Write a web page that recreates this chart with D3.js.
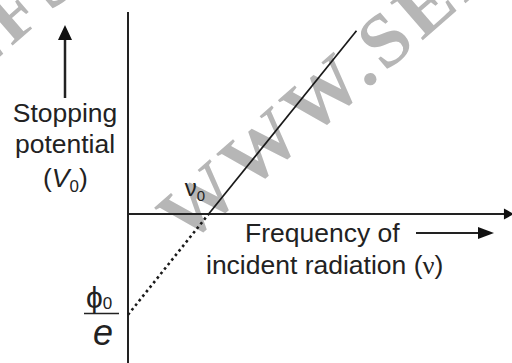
<!DOCTYPE html>
<html lang="en">
<head>
    <meta charset="UTF-8">
    <title>Stopping potential vs frequency</title>
    <script src="https://d3js.org/d3.v7.min.js"></script>
    <style>
        body { margin: 0; background: #fff; }
        text { font-family: "Liberation Sans", Arial, sans-serif; fill: #222; }
        text.wm { font-family: "Liberation Serif", "Times New Roman", serif; font-weight: bold; fill: #b6b6b6; }
    </style>
</head>
<body>
    <div id="chart-container"></div>

    <script>
        // line (arbitrary units)
        const solidNu = [2.1, 5.95];
        const solidV = [0, 4.58];
        const dottedNu = [0, 2.1];
        const dottedV = [-2.52, 0];
        // extent of the drawn axes
        const nuAxis = [0, 10.05];
        const vAxis = [-3.75, 5.05];
        const watermark = "WWW.SELFSTUDYS.COM";

        const width = 512, height = 363;

        const svg = d3.select("#chart-container")
            .append("svg")
            .attr("width", width)
            .attr("height", height);

        const x = d3.scaleLinear().domain([0, 10]).range([128, 512]);
        const y = d3.scaleLinear().domain([0, 5]).range([214, 14]);

        // watermark (drawn first, below the chart)
        [[186, 246], [-310, 326]].forEach(function(p) {
            svg.append("text")
                .attr("class", "wm")
                .attr("transform", "translate(" + p[0] + "," + p[1] + ") rotate(-41)")
                .style("font-size", "76px")
                .style("letter-spacing", "6px")
                .text(watermark);
        });

        const line = d3.line()
            .x(function(d) { return x(d[0]); })
            .y(function(d) { return y(d[1]); });

        // axes
        svg.append("path")
            .attr("d", line([[0, vAxis[0]], [0, vAxis[1]]]))
            .attr("stroke", "#222").attr("stroke-width", 2).attr("fill", "none");
        svg.append("path")
            .attr("d", line([[nuAxis[0], 0], [nuAxis[1] - 0.2, 0]]))
            .attr("stroke", "#222").attr("stroke-width", 2).attr("fill", "none");
        // x-axis arrowhead
        const tipX = x(nuAxis[1]), tipY = y(0);
        svg.append("path")
            .attr("d", "M" + tipX + "," + tipY + "L" + (tipX - 10) + "," + (tipY - 5.5) + "L" + (tipX - 10) + "," + (tipY + 5.5) + "Z")
            .attr("fill", "#111");

        // solid line
        svg.append("path")
            .attr("d", line(d3.zip(solidNu, solidV)))
            .attr("stroke", "#1a1a1a").attr("stroke-width", 1.7).attr("fill", "none");

        // dotted extension
        svg.append("path")
            .attr("d", line(d3.zip(dottedNu, dottedV)))
            .attr("stroke", "#1a1a1a").attr("stroke-width", 2.6)
            .attr("stroke-dasharray", "2.6,3.2").attr("fill", "none");

        // y label with arrow
        svg.append("line")
            .attr("x1", 65).attr("x2", 65).attr("y1", 98).attr("y2", 38)
            .attr("stroke", "#222").attr("stroke-width", 2.5);
        svg.append("path")
            .attr("d", "M65,25L58,40L72,40Z").attr("fill", "#111");

        function label(tx, ty, anchor) {
            return svg.append("text")
                .attr("transform", "translate(" + tx + "," + ty + ") scale(1.06,1)")
                .attr("text-anchor", anchor)
                .style("font-size", "25px");
        }

        label(65, 122, "middle").text("Stopping");
        label(65, 153, "middle").text("potential");

        const v0 = label(43, 187, "start");
        v0.append("tspan").text("(");
        v0.append("tspan").style("font-style", "italic").text("V");
        v0.append("tspan").attr("dy", 5).style("font-size", "16px").text("0");
        v0.append("tspan").attr("dy", -5).text(")");

        // nu0 at the intercept
        const nz = svg.append("text")
            .attr("x", x(solidNu[0]) - 24).attr("y", 196)
            .style("font-size", "24px");
        nz.append("tspan").text("\u03bd");
        nz.append("tspan").attr("dy", 5).style("font-size", "15px").text("0");

        // x label with arrow
        label(245, 242, "start").text("Frequency of");
        const l2 = label(206, 274, "start");
        l2.append("tspan").text("incident radiation (");
        l2.append("tspan").style("font-family", "'Liberation Serif', serif").text("\u03bd");
        l2.append("tspan").text(")");

        svg.append("line")
            .attr("x1", 416).attr("x2", 482).attr("y1", 233).attr("y2", 233)
            .attr("stroke", "#222").attr("stroke-width", 2.2);
        svg.append("path")
            .attr("d", "M494,233L478,227L478,239Z").attr("fill", "#111");

        // phi0 / e at the intercept of the dotted line
        const phi = svg.append("text")
            .attr("x", 86).attr("y", 308)
            .style("font-size", "30px");
        phi.append("tspan").text("\u03d5");
        phi.append("tspan").attr("dy", 1).style("font-size", "17px").text("0");

        svg.append("line")
            .attr("x1", 84).attr("x2", 119).attr("y1", 313.5).attr("y2", 313.5)
            .attr("stroke", "#222").attr("stroke-width", 1.5);

        svg.append("text")
            .attr("x", 103).attr("y", 345)
            .attr("text-anchor", "middle")
            .style("font-size", "36px")
            .style("font-style", "italic")
            .text("e");
    </script>
</body>
</html>
